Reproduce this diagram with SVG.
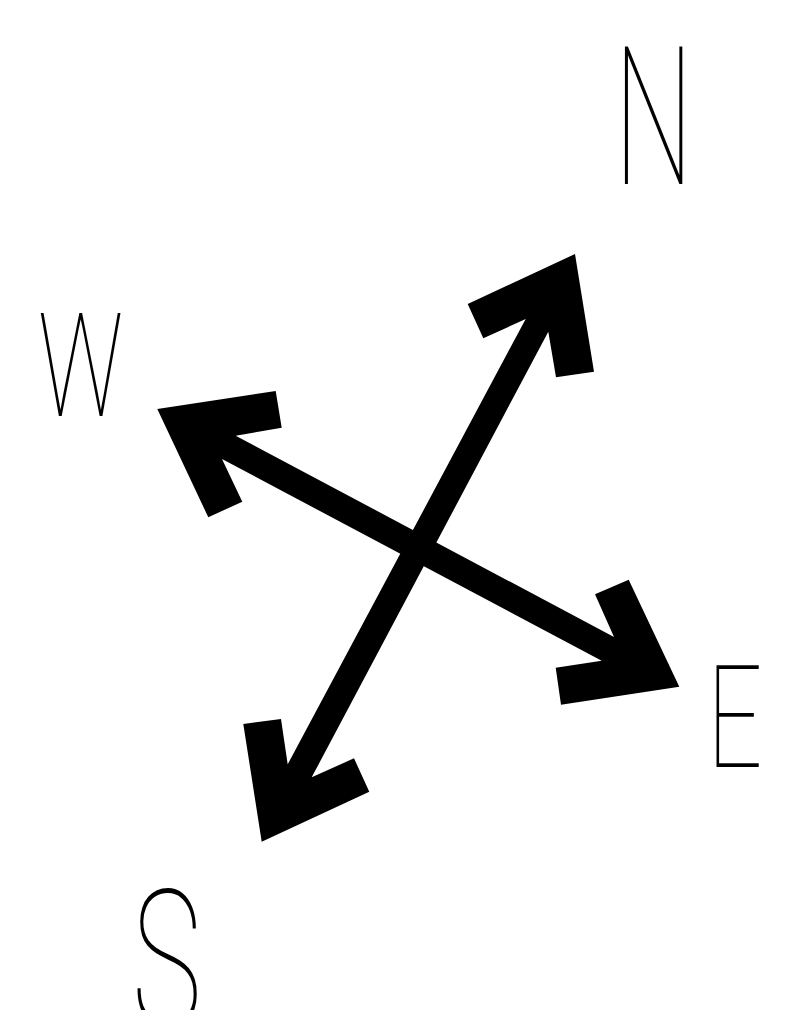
<svg xmlns="http://www.w3.org/2000/svg" width="796" height="1010" viewBox="0 0 796 1010">
<style>
.lbl{font-family:Roboto,"Liberation Sans",sans-serif;font-weight:100;fill:#000}
.arrow{fill:#000;stroke:none}
</style>
<rect x="0" y="0" width="796" height="1010" fill="#fff"/>
<g id="connectors">
<polygon id="arrow-NS" class="arrow" points="575,254 467.7,304 483.3,338.3 525.7,319 287.7,764.3 281,719 243.3,724 261.7,841.7 369.3,791.7 354,758.3 311.7,777.3 548.3,331.7 556,377.3 594,371.7"/>
<polygon id="arrow-WE" class="arrow" points="157.3,409 275.7,391 281.7,427.7 235.7,435.7 614,637 595,594.3 628.7,579.7 679.3,686.7 561,704.7 555.7,667.7 601.7,660.7 222,459 242.3,501.7 208.3,517.3"/>
</g>
<g id="label-N"><text class="lbl" transform="translate(614,184) scale(0.58,1)" font-size="193">N</text></g>
<g id="label-W"><text class="lbl" transform="translate(38,416) scale(0.65,1)" font-size="145">W</text></g>
<g id="label-E"><text class="lbl" transform="translate(707,767) scale(0.68,1)" font-size="143.5">E</text></g>
<g id="label-S"><text class="lbl" transform="translate(132,1027) scale(0.61,1)" font-size="193">S</text></g>
</svg>
